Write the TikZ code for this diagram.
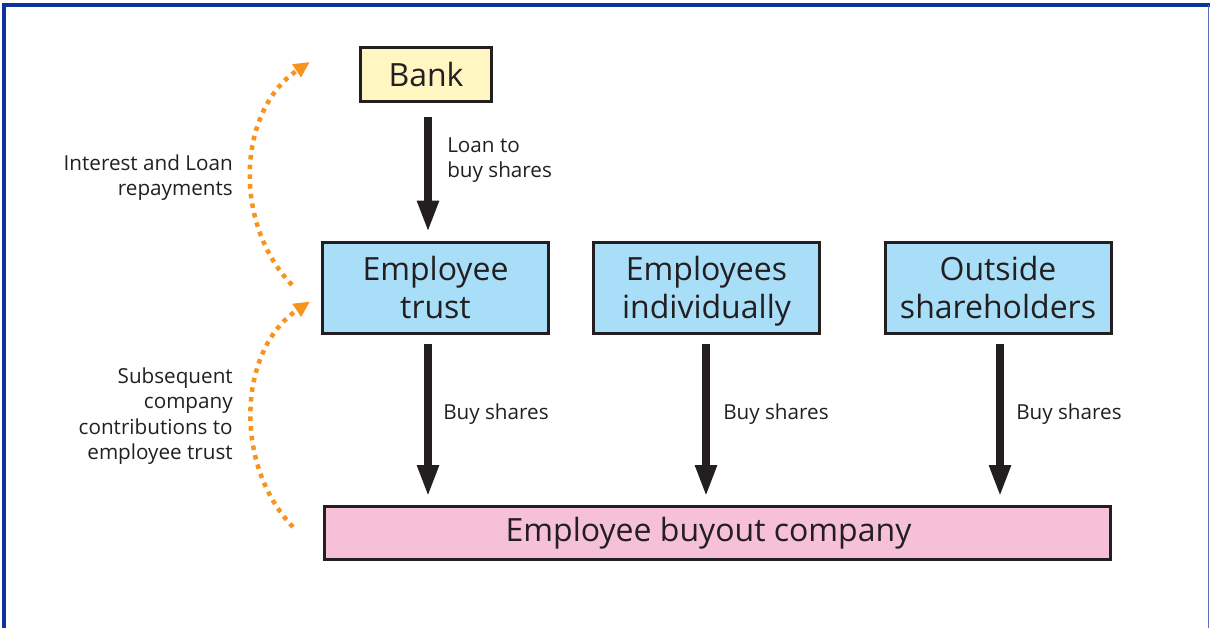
\documentclass[tikz,border=0pt]{standalone}
\usepackage{fontspec}
\setmainfont{Open Sans}
\usetikzlibrary{arrows.meta,calc}
\definecolor{inkdark}{HTML}{231F20}
\definecolor{framblue}{HTML}{0C3399}
\definecolor{bankfill}{HTML}{FFF6C1}
\definecolor{partyfill}{HTML}{A8DEF7}
\definecolor{firmfill}{HTML}{F6C1D8}
\definecolor{flowor}{HTML}{F7941D}
\tikzset{
  box/.style={draw=inkdark, line width=2.25pt, text=inkdark, align=center,
    font=\fontsize{24}{28}\selectfont, inner sep=0pt},
  party/.style={box, fill=partyfill, minimum width=169.5pt, minimum height=68.25pt,
    text depth=0pt},
  flowlabel/.style={text=inkdark, font=\fontsize{15.5}{19}\selectfont, inner sep=0pt},
  bigarrow/.style={draw=inkdark, line width=6pt,
    -{Triangle[length=24pt,width=15pt]}},
  payback/.style={draw=flowor, line width=3.4pt, dash pattern=on 3.4pt off 3.9pt,
    -{Triangle[length=12pt,width=11pt]}}
}
\begin{document}
\begin{tikzpicture}[x=0.75pt,y=-0.75pt]
  \useasboundingbox (0,0) rectangle (1210,628);
  % outer frame
  \draw[framblue, line width=3pt] (3.5,628) -- (3.5,4.5) -- (1210,4.5);
  \draw[framblue!70, line width=0.8pt] (1208.5,5) -- (1208.5,628);

  % boxes
  \node[box, fill=bankfill, minimum width=98.5pt, minimum height=40.5pt] (bank) at (426,74) {Bank};
  \node[party] (trust) at (435.5,287.5) {Employee\\trust};
  \node[party] (indiv) at (706.5,287.5) {Employees\\individually};
  \node[party] (outside) at (998,287.5) {Outside\\shareholders};
  \node[box, fill=firmfill, minimum width=589.5pt, minimum height=39.75pt] (firm) at (717.5,533) {Employee buyout company\hspace*{13.5pt}};

  % share-purchase flows
  \draw[bigarrow] ($(bank.south)+(2,14)$) -- ($(bank.south |- trust.north)+(2,-8)$);
  \draw[bigarrow] ($(trust.south)+(-7.5,9)$) -- ($(trust.south |- firm.north)+(-7.5,-8)$);
  \draw[bigarrow] ($(indiv.south)+(-0.5,9)$) -- ($(indiv.south |- firm.north)+(-0.5,-8)$);
  \draw[bigarrow] ($(outside.south)+(2,9)$) -- ($(outside.south |- firm.north)+(2,-8)$);

  \node[flowlabel, anchor=west, align=left] (loanlbl) at (447,160) {Loan to\\buy shares};
  \node[flowlabel, anchor=west] (buy1) at (443,414) {Buy shares};
  \node[flowlabel, anchor=west] (buy2) at (723,414) {Buy shares};
  \node[flowlabel, anchor=west] (buy3) at (1016,414) {Buy shares};

  % repayment loops
  \coordinate (loopAstart) at ($(trust.west)+(-29,-2.5)$);
  \coordinate (loopAend) at ($(bank.west)+(-49,-12)$);
  \coordinate (loopBstart) at ($(firm.west)+(-30,-6)$);
  \coordinate (loopBend) at ($(trust.north west)+(-11,61)$);
  \draw[payback] (loopAstart) .. controls ($(loopAstart)+(-60,-62)$) and ($(loopAend)+(-72,48)$) .. (loopAend);
  \draw[payback] (loopBstart) .. controls ($(loopBstart)+(-60,-62)$) and ($(loopBend)+(-72,48)$) .. (loopBend);

  \node[flowlabel, anchor=east, align=right] (intlbl) at (233,177.5) {Interest and Loan\\repayments};
  \node[flowlabel, anchor=east, align=right] (contlbl) at (233,416) {Subsequent\\company\\contributions to\\employee trust};
\end{tikzpicture}
\end{document}
